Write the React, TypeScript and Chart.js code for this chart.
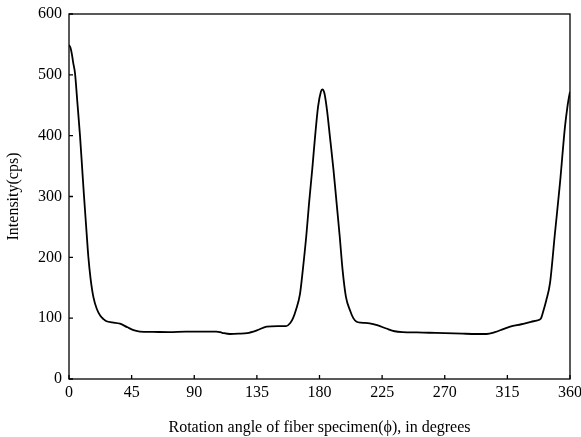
import React, { useEffect, useRef } from "react";
import { Chart, registerables } from "chart.js";

Chart.register(...registerables);

// Rotation angle (degrees)
const angles: number[] = [
  0, 1, 2, 3, 4.3, 6, 7.9, 9.5, 10.8, 12.5, 13.9, 15.5, 17.5, 20, 22.5, 25, 27, 31, 36.6, 42, 47, 51,
  60, 72, 84, 95, 106, 110, 115.7, 122, 128, 135, 142, 150, 156, 159, 161, 163, 166, 168, 170.5,
  172.5, 174.8, 176.8, 179, 181, 182, 183.5, 185.5, 187.5, 190, 192.3, 194.5, 196.6, 199, 201.9,
  204.3, 206.7, 210, 216, 222, 228, 234, 240, 250, 259, 270, 283, 293, 300, 306, 312, 317, 325,
  332, 336, 339, 341, 343, 345.6, 349.2, 352.8, 356.4, 358, 359, 360,
];

// Intensity (cps)
const intensity: number[] = [
  549, 545, 535, 520, 503, 455, 400, 345, 300, 245, 201, 165, 135, 115, 104, 98, 95, 93, 91, 85, 80, 78,
  77.5, 77, 78, 78, 78, 76, 74, 74.5, 75.5, 80, 86, 87, 87, 92, 100, 113, 140, 179, 235,
  289, 345, 398, 448, 472, 476, 470, 440, 398, 345, 289, 235, 179, 135, 113,
  100, 94, 92.5, 91.5, 88, 83, 78.5, 77, 76.5, 76, 75.5, 74.5, 74, 74, 77, 82, 86, 90,
  94, 96, 99, 113, 130, 157, 240, 322, 415, 445, 460, 472,
];

const xTicks: number[] = [0, 45, 90, 135, 180, 225, 270, 315, 360];
const yTicks: number[] = [0, 100, 200, 300, 400, 500, 600];

const xTitle = "Rotation angle of fiber specimen(\u03D5), in degrees";
const yTitle = "Intensity(cps)";

const FONT = "'Liberation Serif', 'Times New Roman', serif";

const framePlugin = {
  id: "frameTicks",
  afterDraw(chart: any) {
    const { ctx, chartArea: a, scales } = chart;
    const xs = scales.x;
    const ys = scales.y;
    ctx.save();
    ctx.strokeStyle = "#000";
    ctx.lineWidth = 1.3;
    ctx.strokeRect(a.left, a.top, a.right - a.left, a.bottom - a.top);
    ctx.beginPath();
    xs.ticks.forEach((t: any) => {
      const px = xs.getPixelForValue(t.value);
      ctx.moveTo(px, a.bottom);
      ctx.lineTo(px, a.bottom - 4);
    });
    ys.ticks.forEach((t: any) => {
      const py = ys.getPixelForValue(t.value);
      ctx.moveTo(a.left, py);
      ctx.lineTo(a.left + 4, py);
    });
    ctx.stroke();
    ctx.restore();
  },
};

export default function App() {
  const ref = useRef<HTMLCanvasElement | null>(null);

  useEffect(() => {
    if (!ref.current) return;
    const points = angles.map((x, i) => ({ x, y: intensity[i] }));
    const chart = new Chart(ref.current, {
      type: "line",
      data: {
        datasets: [
          {
            data: points,
            borderColor: "#000",
            borderWidth: 1.8,
            pointRadius: 0,
            fill: false,
            tension: 0.4,
            cubicInterpolationMode: "monotone",
          },
        ],
      },
      options: {
        animation: false,
        responsive: true,
        maintainAspectRatio: false,
        layout: { padding: { top: 14, right: 11, left: 0, bottom: 0 } },
        plugins: { legend: { display: false }, tooltip: { enabled: false } },
        scales: {
          x: {
            type: "linear",
            min: 0,
            max: 360,
            afterBuildTicks: (scale: any) => {
              scale.ticks = xTicks.map((v) => ({ value: v }));
            },
            afterFit: (scale: any) => {
              scale.height = 58;
              scale.paddingLeft = 0;
              scale.paddingRight = 0;
            },
            grid: { display: false, drawTicks: false },
            border: { display: false },
            ticks: {
              color: "#000",
              padding: 4,
              maxRotation: 0,
              font: { family: FONT, size: 16 },
            },
            title: {
              display: true,
              text: xTitle,
              color: "#000",
              padding: { top: 0, bottom: 0 },
              font: { family: FONT, size: 16 },
            },
          },
          y: {
            type: "linear",
            min: 0,
            max: 600,
            afterBuildTicks: (scale: any) => {
              scale.ticks = yTicks.map((v) => ({ value: v }));
            },
            afterFit: (scale: any) => {
              scale.width = 69;
              scale.paddingTop = 0;
              scale.paddingBottom = 0;
            },
            grid: { display: false, drawTicks: false },
            border: { display: false },
            ticks: {
              color: "#000",
              padding: 7,
              font: { family: FONT, size: 16 },
            },
            title: {
              display: true,
              text: yTitle,
              color: "#000",
              padding: { top: 4, bottom: 0 },
              font: { family: FONT, size: 16 },
            },
          },
        },
      },
      plugins: [framePlugin],
    } as any);
    return () => chart.destroy();
  }, []);

  return (
    <div style={{ position: "fixed", left: 0, top: 0, width: 581, height: 437, background: "#fff" }}>
      <canvas ref={ref} />
    </div>
  );
}
